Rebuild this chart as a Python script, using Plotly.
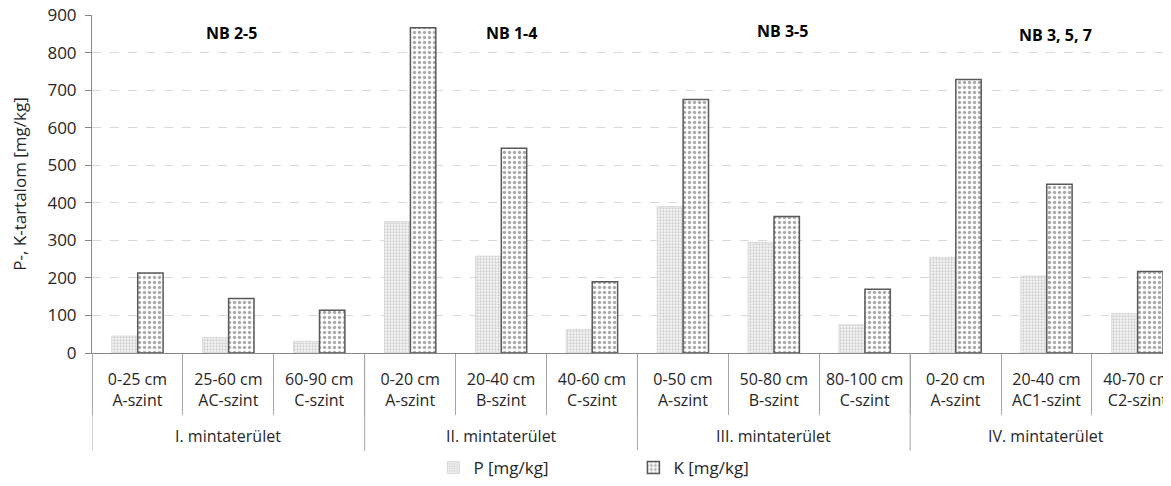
import plotly.graph_objects as go

area_names = ["I. mintaterület", "II. mintaterület", "III. mintaterület", "IV. mintaterület"]
areas = ["I. mintaterület"] * 3 + ["II. mintaterület"] * 3 + ["III. mintaterület"] * 3 + ["IV. mintaterület"] * 3
layers = [
    "0-25 cm<br>A-szint", "25-60 cm<br>AC-szint", "60-90 cm<br>C-szint",
    "0-20 cm<br>A-szint", "20-40 cm<br>B-szint", "40-60 cm<br>C-szint",
    "0-50 cm<br>A-szint", "50-80 cm<br>B-szint", "80-100 cm<br>C-szint",
    "0-20 cm<br>A-szint", "20-40 cm<br>AC1-szint", "40-70 cm<br>C2-szint",
]
p_values = [45, 41, 31, 350, 258, 63, 390, 295, 75, 255, 205, 105]
k_values = [213, 145, 114, 867, 546, 190, 676, 364, 170, 729, 450, 217]
profile_labels = ["NB 2-5", "NB 1-4", "NB 3-5", "NB 3, 5, 7"]
y_ticks = [0, 100, 200, 300, 400, 500, 600, 700, 800, 900]

FONT = "Open Sans"
TXT = "#262626"
SEP = "#a6a6a6"

keys = [a + " | " + l for a, l in zip(areas, layers)]

fig = go.Figure()
fig.add_trace(go.Bar(
    x=keys, y=p_values, name="P [mg/kg]",
    marker=dict(color="white",
                pattern=dict(shape=".", size=3, solidity=0.45, fgcolor="#a6a6a6", bgcolor="#f7f7f7"),
                line=dict(color="#d9d9d9", width=1)),
))
fig.add_trace(go.Bar(
    x=keys, y=k_values, name="K [mg/kg]",
    marker=dict(color="white",
                pattern=dict(shape=".", size=5, solidity=0.38, fgcolor="#595959", bgcolor="white"),
                line=dict(color="#595959", width=1.5)),
))

# group dividers and group labels (below the axis)
start = 0
for g, name in enumerate(area_names):
    n = areas.count(name)
    fig.add_shape(type="line", xref="x", yref="paper", x0=start - 0.5, x1=start - 0.5,
                  y0=0, y1=-0.289, line=dict(color=SEP, width=1))
    fig.add_annotation(text=name, x=start + (n - 1) / 2, y=-0.245, xref="x", yref="paper",
                       showarrow=False, xanchor="center", yanchor="middle",
                       font=dict(family=FONT, size=16, color=TXT))
    start += n

ann_x = [0.1297, 0.389, 0.6404, 0.8925]
ann_y = [0.947, 0.947, 0.953, 0.941]
for lab, ax, ay in zip(profile_labels, ann_x, ann_y):
    fig.add_annotation(text="<b>" + lab + "</b>", x=ax, y=ay, xref="paper", yref="paper",
                       showarrow=False, xanchor="center", yanchor="middle",
                       font=dict(family=FONT, size=16, color="#000000"))

fig.update_layout(
    width=1163, height=478,
    margin=dict(l=84, r=0, t=7, b=132),
    paper_bgcolor="white", plot_bgcolor="white",
    barmode="group", bargap=0.43, bargroupgap=0.02,
    font=dict(family=FONT, size=16, color=TXT),
    legend=dict(orientation="h", x=0.3164, xanchor="left", y=-0.342, yanchor="middle",
                entrywidth=155, entrywidthmode="pixels", font=dict(size=17)),
    xaxis=dict(type="category", range=[-0.5, 11.37], automargin=False,
               tickmode="array", tickvals=keys, ticktext=layers,
               showline=True, linecolor="#868686", linewidth=1,
               ticks="outside", tickson="boundaries", ticklen=61, tickcolor=SEP,
               ticklabelstandoff=12, ticklabeloverflow="allow",
               tickfont=dict(family=FONT, size=16, color=TXT)),
    yaxis=dict(range=[0, 901], tickvals=y_ticks, automargin=False,
               showline=True, linecolor="#868686", linewidth=1,
               ticks="outside", ticklen=6, tickcolor="#868686",
               showgrid=True, gridcolor="#d9d9d9", griddash="dash", gridwidth=1,
               zeroline=False, ticklabeloverflow="allow", ticklabelstandoff=5,
               title=dict(text="P-, K-tartalom [mg/kg]", standoff=28,
                          font=dict(family=FONT, size=17, color=TXT)),
               tickfont=dict(family=FONT, size=17, color=TXT)),
)

fig.write_html("out.html")
